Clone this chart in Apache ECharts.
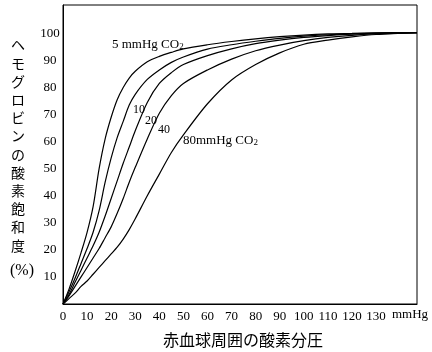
<!DOCTYPE html>
<html>
<head>
<meta charset="utf-8">
<script src="https://cdn.jsdelivr.net/npm/echarts@6/dist/echarts.min.js"></script>
<style>
  html, body { margin: 0; padding: 0; background: #fff; }
  #chart { width: 432px; height: 352px; }
</style>
</head>
<body>
<div id="chart"></div>
<script>
// 酸素分圧 (mmHg)
var po2 = [0, 2.5, 5, 7.5, 10, 12.5, 15, 17.5, 20, 22.5, 25, 27.5, 30, 35, 40, 45, 50, 60, 70, 80, 90, 100, 110, 120, 130, 147];
// 飽和度 (%) for each CO2 level
var co2_5  = [0, 5.5, 12, 19, 26.5, 36, 50, 61, 69, 75.5, 80, 83.5, 86, 89.5, 91.5, 93, 94.3, 95.8, 97, 98, 98.8, 99.4, 99.8, 100, 100.2, 100.3];
var co2_10 = [0, 4.5, 9.5, 15, 20.5, 26.5, 34.5, 45, 54, 61.5, 67.5, 73.5, 77.5, 83, 86.5, 89.3, 91.3, 94.2, 95.8, 97.1, 98.2, 99, 99.5, 99.9, 100.1, 100.3];
var co2_20 = [0, 3.5, 8, 12.5, 17, 21.5, 26.5, 32.5, 39, 45.5, 52, 58, 64, 74.5, 81.5, 85.5, 88.5, 91.8, 94.3, 96.2, 97.5, 98.5, 99.2, 99.7, 100, 100.3];
var co2_40 = [0, 3, 6.5, 10, 13.5, 17, 20.5, 24.5, 28.5, 33.5, 39, 45, 50.5, 61, 70.5, 77, 81.5, 86.5, 90.5, 93.6, 95.7, 97.3, 98.5, 99.3, 99.8, 100.3];
var co2_80 = [0, 2, 4, 6.5, 8.5, 11, 13.5, 16, 18.5, 21, 24, 27.5, 31.5, 40, 48, 56, 62.5, 74, 82.8, 88.5, 92.8, 96, 97.5, 98.7, 99.6, 100.3];

var xTicksShown = 130;  // x labels up to 130, then "mmHg"
var yTickMin = 10, yTickMax = 100;

var serif = '"Liberation Serif", "DejaVu Serif", "Noto Sans CJK JP", serif';
var jp = '"Noto Sans CJK JP", "Liberation Serif", serif';

function pairs(ys) {
  var out = [];
  for (var i = 0; i < po2.length; i++) out.push([po2[i], ys[i]]);
  return out;
}

function curve(name, ys) {
  return {
    name: name,
    type: 'line',
    data: pairs(ys),
    showSymbol: false,
    smooth: 0.3,
    lineStyle: { color: '#000', width: 1.2 },
    silent: true
  };
}

var sub = {
  c: { fontFamily: serif, fontSize: 13, fill: '#000' },
  s: { fontFamily: serif, fontSize: 9, fill: '#000', padding: [5, 0, 0, 0] }
};

var chart = echarts.init(document.getElementById('chart'));
chart.setOption({
  animation: false,
  grid: {
    left: 63, right: 15, top: 5, bottom: 48,
    show: true, borderColor: '#000', borderWidth: 1
  },
  xAxis: {
    type: 'value',
    min: 0, max: 147, interval: 10,
    axisLine: { lineStyle: { color: '#000', width: 1 } },
    axisTick: { show: false },
    splitLine: { show: false },
    axisLabel: {
      margin: 6,
      fontFamily: serif, fontSize: 13, color: '#000',
      formatter: function (v) { return v <= xTicksShown ? String(v) : ''; }
    }
  },
  yAxis: {
    type: 'value',
    min: 0, max: 110.5, interval: 10,
    axisLine: { show: true, lineStyle: { color: '#000', width: 1 } },
    axisTick: { show: false },
    splitLine: { show: false },
    axisLabel: {
      margin: 13, align: 'center',
      fontFamily: serif, fontSize: 13, color: '#000',
      formatter: function (v) { return (v >= yTickMin && v <= yTickMax) ? String(v) : ''; }
    }
  },
  series: [
    curve('5', co2_5),
    curve('10', co2_10),
    curve('20', co2_20),
    curve('40', co2_40),
    curve('80', co2_80)
  ],
  graphic: [
    {
      type: 'text', left: 112, top: 38,
      style: { text: '5 mmHg {c|CO}{s|2}', font: '13px ' + serif, fill: '#000', rich: sub }
    },
    { type: 'text', left: 133, top: 104, style: { text: '10', font: '12px ' + serif, fill: '#000' } },
    { type: 'text', left: 145, top: 115, style: { text: '20', font: '12px ' + serif, fill: '#000' } },
    { type: 'text', left: 158, top: 124, style: { text: '40', font: '12px ' + serif, fill: '#000' } },
    {
      type: 'text', left: 183, top: 134,
      style: { text: '80mmHg {c|CO}{s|2}', font: '13px ' + serif, fill: '#000', rich: sub }
    },
    {
      type: 'text', left: 11, top: 36,
      style: {
        text: 'ヘ\nモ\nグ\nロ\nビ\nン\nの\n酸\n素\n飽\n和\n度',
        font: '14px ' + jp, fill: '#000', lineHeight: 18.2, align: 'left'
      }
    },
    { type: 'text', left: 10, top: 263, style: { text: '(%)', font: '16px ' + serif, fill: '#000' } },
    { type: 'text', left: 392, top: 308, style: { text: 'mmHg', font: '13px ' + serif, fill: '#000' } },
    {
      type: 'text', left: 163, top: 332,
      style: { text: '赤血球周囲の酸素分圧', font: '16px ' + jp, fill: '#000' }
    }
  ]
});
</script>
</body>
</html>
